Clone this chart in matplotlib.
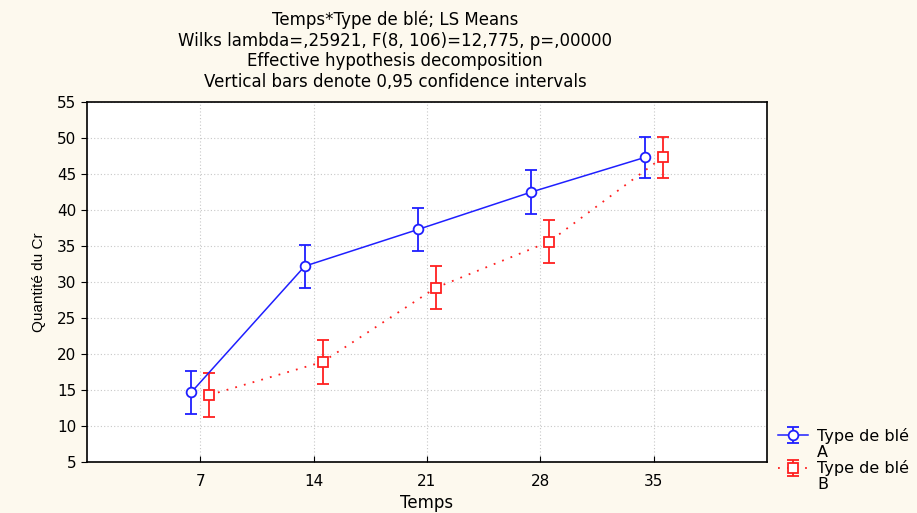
import matplotlib.pyplot as plt
from matplotlib.lines import Line2D
import numpy as np

plt.rcParams['font.family'] = ['DejaVu Sans']

temps = [7, 14, 21, 28, 35]
moy_a = [14.7, 32.2, 37.3, 42.5, 47.3]
moy_b = [14.3, 18.9, 29.2, 35.6, 47.3]
ic_a = [3.0, 3.0, 3.0, 3.0, 2.9]
ic_b = [3.0, 3.0, 3.0, 3.0, 2.9]
yticks = [5, 10, 15, 20, 25, 30, 35, 40, 45, 50, 55]

titre = ["Temps*Type de blé; LS Means",
         "Wilks lambda=,25921, F(8, 106)=12,775, p=,00000",
         "Effective hypothesis decomposition",
         "Vertical bars denote 0,95 confidence intervals"]

fig = plt.figure(figsize=(9.17, 5.13), dpi=100, facecolor='#fdf9ee')
ax = fig.add_axes([87/917, 1-462/513, 680/917, 360/513])
ax.set_facecolor('white')

dx = 0.55
x = np.array(temps)
ea = ax.errorbar(x - dx, moy_a, yerr=ic_a, color='#1f1fff', lw=1.1, ls='-',
                 marker='o', ms=7, mfc='white', mew=1.3, capsize=4, elinewidth=1.3,
                 zorder=3)
eb = ax.errorbar(x + dx, moy_b, yerr=ic_b, color='#ff2020', lw=1.3, ls=(0, (1, 4)),
                 marker='s', ms=7, mfc='white', mew=1.3, capsize=4, elinewidth=1.3,
                 zorder=3)

ax.set_xlim(0, 42)
ax.set_ylim(5, 55)
ax.set_xticks(temps)
ax.set_yticks(yticks)
ax.grid(True, ls=(0, (1, 2)), color='#c8c8c8', lw=0.8)
ax.tick_params(axis='x', direction='in', length=4, labelsize=11, pad=9)
ax.tick_params(axis='y', direction='out', length=4, labelsize=11)
for s in ax.spines.values():
    s.set_linewidth(1.2)

ax.set_xlabel('Temps', fontsize=12, labelpad=3)
ax.set_ylabel('Quantité du Cr', fontsize=11, family=['Liberation Sans'], labelpad=8)
for i, ligne in enumerate(titre):
    fig.text(395/917, 1 - (20 + 20.7*i)/513, ligne, ha='center', va='center',
             fontsize=12)

vide = Line2D([], [], lw=0, marker=None)
leg = ax.legend([ea, vide, eb, vide], ['Type de blé', 'A', 'Type de blé', 'B'],
                loc='upper left', bbox_to_anchor=(778/917, 1 - 428/513),
                bbox_transform=fig.transFigure,
                frameon=False, fontsize=11.5, handlelength=1.9, labelspacing=0.04,
                handletextpad=0.55, borderaxespad=0, borderpad=0)

fig.savefig('out.png', dpi=100, facecolor=fig.get_facecolor())
